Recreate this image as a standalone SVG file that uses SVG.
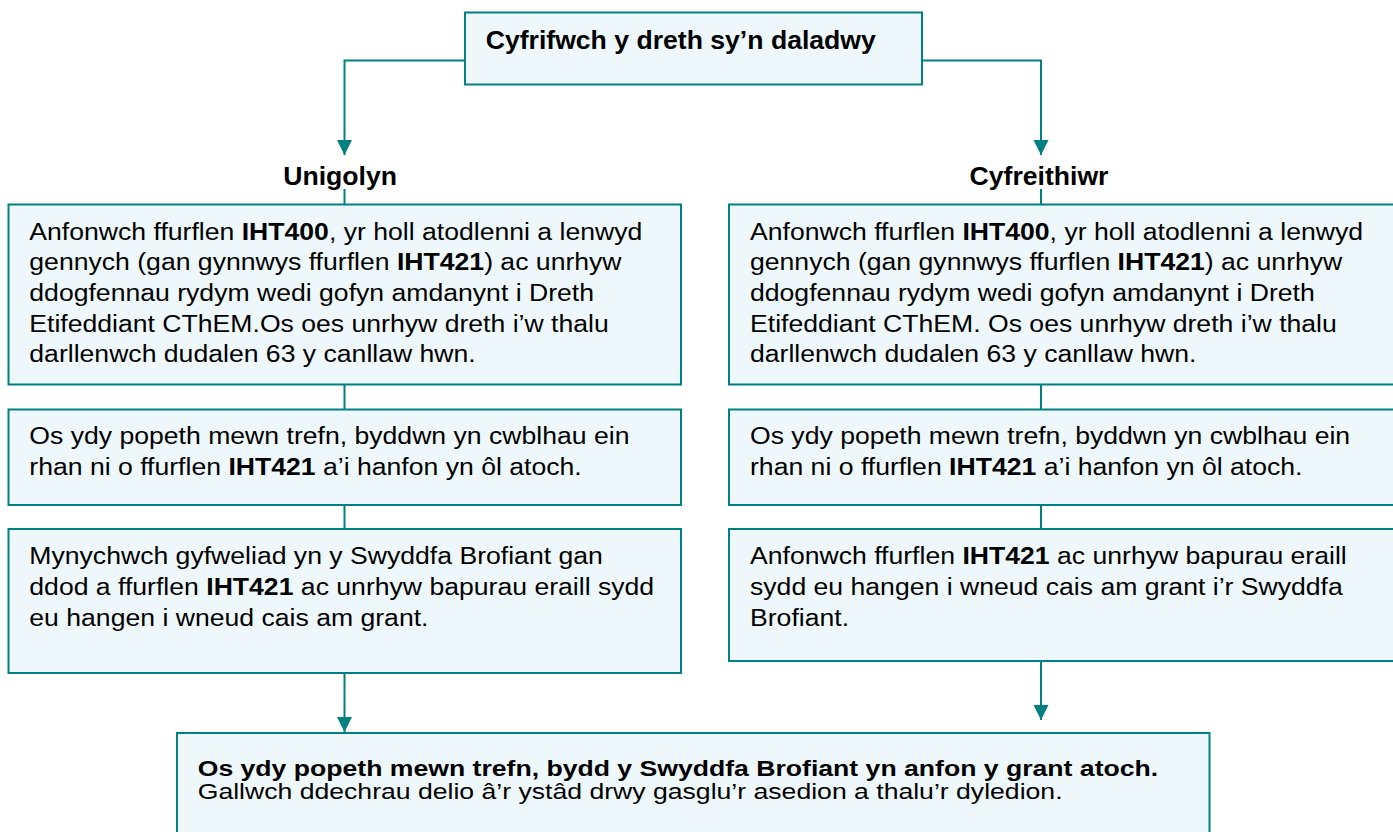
<svg xmlns="http://www.w3.org/2000/svg" width="1393" height="832" viewBox="0 0 1393 832">
  <style>
    .box { fill: #EEF8FA; stroke: #008080; stroke-width: 2; }
    .conn { fill: none; stroke: #008080; stroke-width: 2; }
    .t { font-family: "Liberation Sans", Arial, sans-serif; font-size: 26.6px; fill: #000; }
    .m { font-family: "Liberation Sans", Arial, sans-serif; font-size: 24.5px; fill: #000; }
    .s { font-family: "Liberation Sans", Arial, sans-serif; font-size: 22.8px; fill: #000; }
    .b { font-weight: bold; }
  </style>
  <defs>
    <marker id="arrow" markerUnits="userSpaceOnUse" markerWidth="16" markerHeight="16" refX="15" refY="7.5" orient="auto">
      <path d="M0,0 L15,7.5 L0,15 Z" fill="#008080"/>
    </marker>
  </defs>
  <rect width="1393" height="832" fill="#fff"/>

  <g id="connectors">
    <path class="conn" d="M465,60.5 H344.5 V155" marker-end="url(#arrow)"/>
    <path class="conn" d="M922,60.5 H1041 V155" marker-end="url(#arrow)"/>
    <path class="conn" d="M344.5,189 V204"/>
    <path class="conn" d="M1041,189 V204"/>
    <path class="conn" d="M344.5,384 V409"/>
    <path class="conn" d="M344.5,505 V529"/>
    <path class="conn" d="M1041,384 V409"/>
    <path class="conn" d="M1041,505 V529"/>
    <path class="conn" d="M344.5,673 V732" marker-end="url(#arrow)"/>
    <path class="conn" d="M1041,661 V720" marker-end="url(#arrow)"/>
  </g>

  <g id="top">
    <rect class="box" x="465" y="12.5" width="457" height="72"/>
    <text class="t b" x="485.7" y="49">Cyfrifwch y dreth sy’n daladwy</text>
  </g>

  <g id="label-unigolyn">
    <text class="t b" x="397" y="184.5" text-anchor="end">Unigolyn</text>
  </g>
  <g id="label-cyfreithiwr">
    <text class="t b" x="1039" y="184.5" text-anchor="middle">Cyfreithiwr</text>
  </g>

  <g id="left-1">
    <rect class="box" x="8.5" y="204.5" width="672.5" height="180"/>
    <text class="m" transform="translate(29.3,239.5) scale(1.086,1)">Anfonwch ffurflen <tspan class="b">IHT400</tspan>, yr holl atodlenni a lenwyd</text>
    <text class="m" transform="translate(29.3,270.2) scale(1.086,1)">gennych (gan gynnwys ffurflen <tspan class="b">IHT421</tspan>) ac unrhyw</text>
    <text class="m" transform="translate(29.3,300.9) scale(1.086,1)">ddogfennau rydym wedi gofyn amdanynt i Dreth</text>
    <text class="m" transform="translate(29.3,331.6) scale(1.086,1)">Etifeddiant CThEM.Os oes unrhyw dreth i’w thalu</text>
    <text class="m" transform="translate(29.3,362.3) scale(1.086,1)">darllenwch dudalen 63 y canllaw hwn.</text>
  </g>
  <g id="left-2">
    <rect class="box" x="8.5" y="409.5" width="672.5" height="95.5"/>
    <text class="m" transform="translate(29.3,444.2) scale(1.086,1)">Os ydy popeth mewn trefn, byddwn yn cwblhau ein</text>
    <text class="m" transform="translate(29.3,474.9) scale(1.086,1)">rhan ni o ffurflen <tspan class="b">IHT421</tspan> a’i hanfon yn ôl atoch.</text>
  </g>
  <g id="left-3">
    <rect class="box" x="8.5" y="529" width="672.5" height="144"/>
    <text class="m" transform="translate(29.3,564.3) scale(1.086,1)">Mynychwch gyfweliad yn y Swyddfa Brofiant gan</text>
    <text class="m" transform="translate(29.3,595) scale(1.086,1)">ddod a ffurflen <tspan class="b">IHT421</tspan> ac unrhyw bapurau eraill sydd</text>
    <text class="m" transform="translate(29.3,625.7) scale(1.086,1)">eu hangen i wneud cais am grant.</text>
  </g>

  <g id="right-1">
    <rect class="box" x="729" y="204.5" width="673" height="180"/>
    <text class="m" transform="translate(750,239.5) scale(1.086,1)">Anfonwch ffurflen <tspan class="b">IHT400</tspan>, yr holl atodlenni a lenwyd</text>
    <text class="m" transform="translate(750,270.2) scale(1.086,1)">gennych (gan gynnwys ffurflen <tspan class="b">IHT421</tspan>) ac unrhyw</text>
    <text class="m" transform="translate(750,300.9) scale(1.086,1)">ddogfennau rydym wedi gofyn amdanynt i Dreth</text>
    <text class="m" transform="translate(750,331.6) scale(1.086,1)">Etifeddiant CThEM. Os oes unrhyw dreth i’w thalu</text>
    <text class="m" transform="translate(750,362.3) scale(1.086,1)">darllenwch dudalen 63 y canllaw hwn.</text>
  </g>
  <g id="right-2">
    <rect class="box" x="729" y="409.5" width="673" height="95.5"/>
    <text class="m" transform="translate(750,444.2) scale(1.086,1)">Os ydy popeth mewn trefn, byddwn yn cwblhau ein</text>
    <text class="m" transform="translate(750,474.9) scale(1.086,1)">rhan ni o ffurflen <tspan class="b">IHT421</tspan> a’i hanfon yn ôl atoch.</text>
  </g>
  <g id="right-3">
    <rect class="box" x="729" y="529" width="673" height="132"/>
    <text class="m" transform="translate(750,564.3) scale(1.086,1)">Anfonwch ffurflen <tspan class="b">IHT421</tspan> ac unrhyw bapurau eraill</text>
    <text class="m" transform="translate(750,595) scale(1.086,1)">sydd eu hangen i wneud cais am grant i’r Swyddfa</text>
    <text class="m" transform="translate(750,625.7) scale(1.086,1)">Brofiant.</text>
  </g>

  <g id="bottom">
    <rect class="box" x="177" y="733" width="1032.5" height="120"/>
    <text class="s b" transform="translate(197.7,776) scale(1.167,1)">Os ydy popeth mewn trefn, bydd y Swyddfa Brofiant yn anfon y grant atoch.</text>
    <text class="s" transform="translate(197.7,799.3) scale(1.167,1)">Gallwch ddechrau delio â’r ystâd drwy gasglu’r asedion a thalu’r dyledion.</text>
  </g>
</svg>
